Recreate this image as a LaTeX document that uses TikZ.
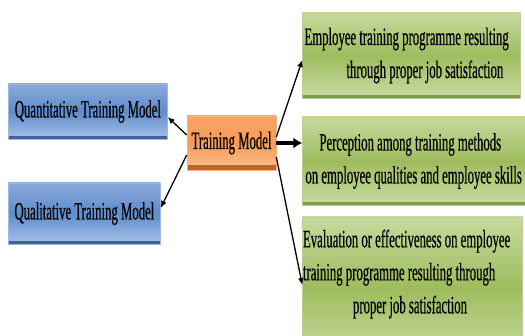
\documentclass[tikz,border=0pt]{standalone}
\usepackage{fontspec}
\setmainfont{Liberation Serif}[FakeStretch=0.51, FakeBold=0.4]
\usepackage{tikz}
\usetikzlibrary{arrows.meta,positioning}

\definecolor{blueTop}{HTML}{8AAADB}
\definecolor{blueMid}{HTML}{5E8BCA}
\definecolor{blueBot}{HTML}{A8C2E8}
\definecolor{blueEdge}{HTML}{3D6399}
\definecolor{blueLine}{HTML}{9FB8E0}
\definecolor{orangeTop}{HTML}{F9A468}
\definecolor{orangeMid}{HTML}{F79A55}
\definecolor{orangeBot}{HTML}{FBC194}
\definecolor{orangeEdge}{HTML}{C0642A}
\definecolor{orangeLine}{HTML}{F6B283}
\definecolor{greenTop}{HTML}{C6DA9E}
\definecolor{greenMid}{HTML}{9EBC5E}
\definecolor{greenBot}{HTML}{C9DCA2}
\definecolor{greenEdge}{HTML}{7E9C48}
\definecolor{greenLine}{HTML}{B9CC94}

\begin{document}
\begin{tikzpicture}[
  x=1pt, y=-1pt,
  node distance=8mm and 14mm,
  box/.style={inner sep=0pt, align=left, text=black, line width=0.6pt,
    font=\fontsize{25}{33}\selectfont},
  bluebox/.style={box, draw=blueLine, top color=blueTop, bottom color=blueBot, middle color=blueMid,
    path picture={\fill[blueEdge] (path picture bounding box.south west) rectangle ([yshift=3pt]path picture bounding box.south east);}},
  orangebox/.style={box, draw=orangeLine, top color=orangeTop, bottom color=orangeBot, middle color=orangeMid,
    path picture={\fill[orangeEdge] (path picture bounding box.south west) rectangle ([yshift=5pt]path picture bounding box.south east);}},
  greenbox/.style={box, draw=greenLine, top color=greenTop, bottom color=greenBot, middle color=greenMid,
    path picture={\fill[greenEdge] (path picture bounding box.south west) rectangle ([yshift=3pt]path picture bounding box.south east);}},
  link/.style={-{Latex[length=7pt,width=6pt]}, line width=1.3pt},
  biglink/.style={-{Latex[length=9pt,width=11pt]}, line width=3.5pt},
]
\useasboundingbox (0,0) rectangle (525,336);

% centre node
\node[orangebox, minimum width=89pt, minimum height=54pt] (tm) at (231.5,143) {Training Model};

% model types on the left
\node[bluebox, minimum width=159pt, minimum height=55pt, left=19pt of tm, yshift=31.5pt] (quant) {Quantitative Training Model};
\node[bluebox, minimum width=152pt, minimum height=61pt, left=26pt of tm, yshift=-70.5pt] (qual) {Qualitative Training Model};

% outcomes on the right (trailing space pulls the text block a little to the left)
\node[greenbox, minimum width=218pt, minimum height=85pt, right=26pt of tm, yshift=87.5pt] (result) {%
  Employee training programme resulting\hspace*{10pt}\\\hspace*{42pt}through proper job satisfaction};
\node[greenbox, minimum width=226pt, minimum height=88pt, right=26pt of tm, yshift=-18pt] (percep) {%
  \hspace*{14pt}Perception among training methods\\on employee qualities and employee skills\hspace*{4pt}};
\node[greenbox, minimum width=220pt, minimum height=142pt, right=26pt of tm, yshift=-145pt] (evalu) {%
  Evaluation or effectiveness on employee\hspace*{12pt}\\training programme resulting through\\\hspace*{50pt}proper job satisfaction\\\mbox{}};

% connectors
\draw[link] ([yshift=8pt]tm.west) -- ([yshift=-5.5pt]quant.east);
\draw[link] ([yshift=-12pt]tm.west) -- ([yshift=5.5pt]qual.east);
\draw[link] ([yshift=6pt]tm.east) -- ([yshift=-4.5pt]result.west);
\draw[biglink] (tm.east) -- ([yshift=18pt]percep.west);
\draw[link] ([yshift=-14pt]tm.east) -- ([yshift=3pt]evalu.west);

\end{tikzpicture}
\end{document}
